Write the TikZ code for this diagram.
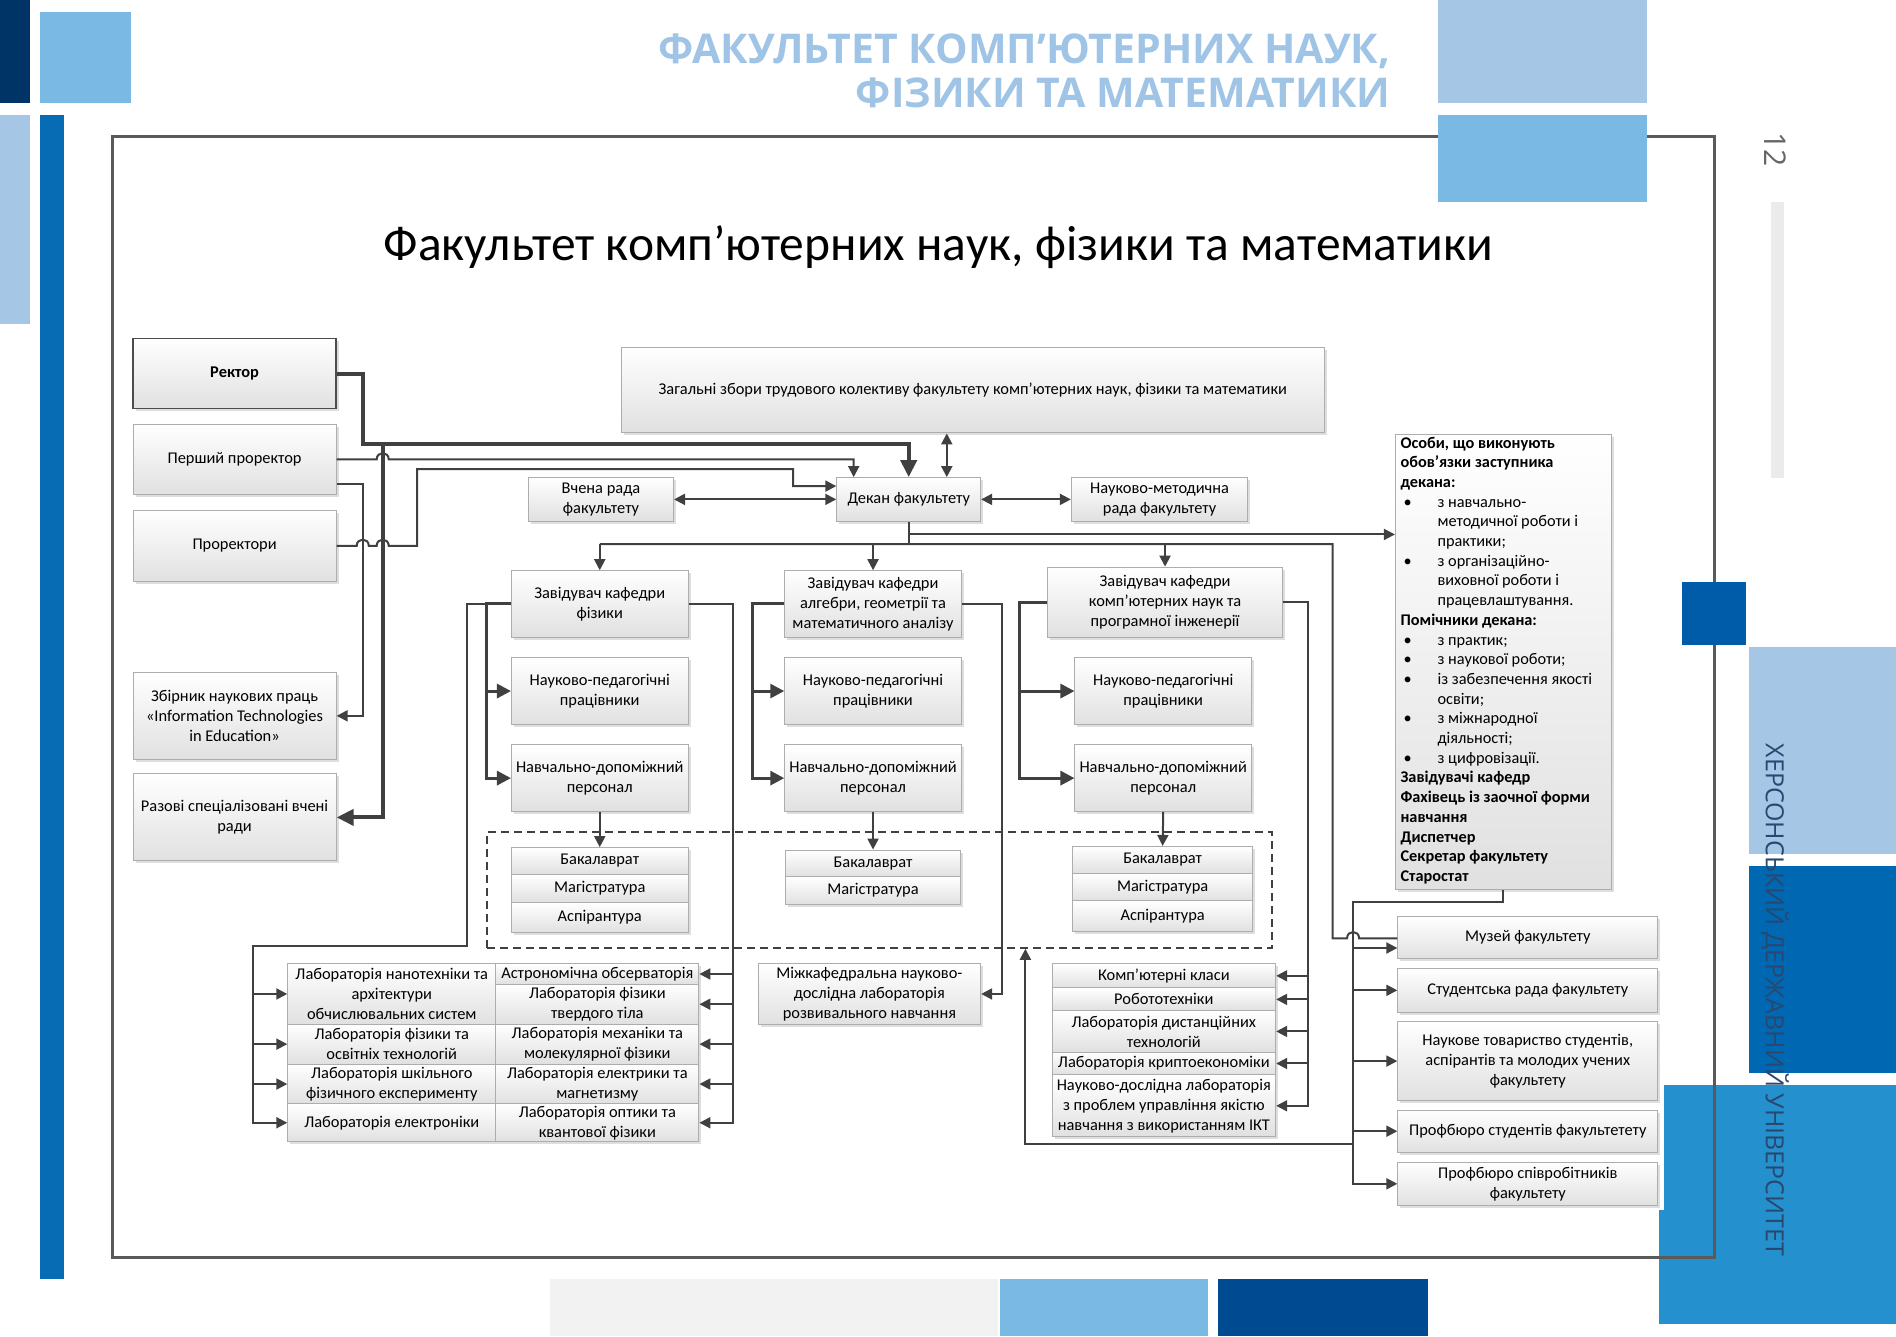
\documentclass[tikz,border=0pt]{standalone}
\usepackage{fontspec}
\setmainfont{Carlito}
\newfontfamily\hdrfont{Open Sans}
\usetikzlibrary{arrows.meta,shadows}
\definecolor{cNavy}{RGB}{0,51,102}
\definecolor{cPale}{RGB}{166,198,230}
\definecolor{cSky}{RGB}{122,185,227}
\definecolor{cBlue}{RGB}{8,108,180}
\definecolor{cDeep}{RGB}{0,92,169}
\definecolor{cMid}{RGB}{0,104,178}
\definecolor{cBright}{RGB}{36,144,205}
\definecolor{cDark}{RGB}{0,74,146}
\definecolor{cHdr}{RGB}{160,196,230}
\definecolor{cLine}{RGB}{64,64,64}
\definecolor{cVert}{RGB}{40,72,112}
\definecolor{cFrame}{RGB}{90,90,90}
\tikzset{
  x=1.2092pt, y=-1.2092pt,
  bx/.style={draw=black!32, line width=1pt, top color=white, bottom color=black!12,
    drop shadow={shadow xshift=2.5pt, shadow yshift=-2.5pt, fill=black!25},
    align=center, inner sep=0pt, font=\fontsize{16.4}{20}\selectfont},
  ln/.style={draw=cLine, line width=2pt},
  med/.style={draw=cLine, line width=3pt},
  thk/.style={draw=cLine, line width=4pt},
  >={Triangle[length=11pt,width=11pt]},
  mtip/.style={-{Triangle[length=14pt,width=14pt]}},
  ttip/.style={-{Triangle[length=17pt,width=16pt]}},
}
\newcommand\bx[7][]{%
  \pgfmathsetmacro\bxw{(#5-#3)*1.2092}%
  \pgfmathsetmacro\bxh{(#6-#4)*1.2092}%
  \node[bx,minimum width=\bxw pt,minimum height=\bxh pt,#1] (#2) at ({(#3+#5)/2},{(#4+#6)/2}) {#7};}
\newcommand\osb{\makebox[37pt][l]{\hspace{3pt}•}}
\newcommand\osi{\hspace*{37pt}}
\begin{document}
\begin{tikzpicture}
\useasboundingbox (0,0) rectangle (1568,1105);
\fill[white] (0,0) rectangle (1568,1105);
% decorative blocks
\fill[cNavy] (0,0) rectangle (25,85);
\fill[cSky] (33,10) rectangle (108,85);
\fill[cPale] (0,95) rectangle (25,268);
\fill[cBlue] (33,95) rectangle (53,1058);
\fill[cPale] (1189,0) rectangle (1362,85);
\fill[black!8] (1465,167) rectangle (1475,395);
\fill[cPale] (1446,535) rectangle (1568,706);
\fill[cMid] (1446,716) rectangle (1568,887);
\fill[cBright] (1372,897) rectangle (1568,1095);
\fill[black!5] (455,1058) rectangle (825,1105);
\fill[cSky] (827,1058) rectangle (999,1105);
\fill[cDark] (1007,1058) rectangle (1181,1105);
\fill[white] (1360,897) rectangle (1376,1001);
% frame
\draw[cFrame, line width=2.5pt] (93,113) rectangle (1418,1040);
\fill[cSky] (1189,95) rectangle (1362,167);
\fill[cDeep] (1391,481) rectangle (1444,533);
% header texts
\node[anchor=east, inner sep=0pt, text=cHdr, font=\hdrfont\bfseries\fontsize{41}{44}\selectfont] (h1) at (1150,42) {ФАКУЛЬТЕТ КОМП’ЮТЕРНИХ НАУК,};
\node[anchor=east, inner sep=0pt, text=cHdr, font=\hdrfont\bfseries\fontsize{41}{44}\selectfont] (h2) at (1150,77) {ФІЗИКИ ТА МАТЕМАТИКИ};
\node[rotate=-90, inner sep=0pt, text=black!60, font=\hdrfont\fontsize{30}{32}\selectfont] (pg) at (1468,124) {12};
\node[rotate=-90, inner sep=0pt, text=cVert, font=\hdrfont\fontsize{25}{27}\selectfont] (uni) at (1468,827) {ХЕРСОНСЬКИЙ ДЕРЖАВНИЙ УНІВЕРСИТЕТ};
% title
\node[inner sep=0pt, font=\fontsize{49.5}{54}\selectfont] (title) at (776,204) {Факультет комп’ютерних наук, фізики та математики};
% dashed group
\node[draw=cLine, line width=1.6pt, dash pattern=on 8pt off 5pt, minimum width=784.8pt, minimum height=116.1pt, inner sep=0pt] (dsh) at (727.5,736) {};
% boxes
\bx[font=\bfseries\fontsize{16.4}{20}\selectfont, draw=black!70, line width=1.5pt]{rector}{110}{280}{278}{338}{Ректор}
\bx{pp}{110}{351}{278}{409}{Перший проректор}
\bx{pr}{110}{422}{278}{481}{Проректори}
\bx{zb}{110}{556}{278}{628}{Збірник наукових праць\\«Information Technologies\\in Education»}
\bx{rz}{110}{640}{278}{712}{Разові спеціалізовані вчені\\ради}
\bx{zz}{514}{287}{1095}{358}{Загальні збори трудового колективу факультету комп’ютерних наук, фізики та математики}
\bx{vr}{437}{395}{557}{431}{Вчена рада\\факультету}
\bx{dek}{692}{395}{811}{431}{Декан факультету}
\bx{nmr}{886}{395}{1032}{431}{Науково-методична\\рада факультету}
\bx{os}{1154}{359}{1333}{736}{}
\node[anchor=north west, align=left, inner sep=0pt, font=\fontsize{16.3}{19.7}\selectfont] (ostext) at ([xshift=5.5pt,yshift=-3pt]os.north west) {%
\textbf{Особи, що виконують}\\
\textbf{обов'язки заступника}\\
\textbf{декана:}\\
\osb з навчально-\\
\osi методичної роботи і\\
\osi практики;\\
\osb з організаційно-\\
\osi виховної роботи і\\
\osi працевлаштування.\\
\textbf{Помічники декана:}\\
\osb з практик;\\
\osb з наукової роботи;\\
\osb із забезпечення якості\\
\osi освіти;\\
\osb з міжнародної\\
\osi діяльності;\\
\osb з цифровізації.\\
\textbf{Завідувачі кафедр}\\
\textbf{Фахівець із заочної форми}\\
\textbf{навчання}\\
\textbf{Диспетчер}\\
\textbf{Секретар факультету}\\
\textbf{Старостат}};
% departments
\bx{za}{423}{472}{569}{527}{Завідувач кафедри\\фізики}
\bx{zg}{649}{472}{795}{527}{Завідувач кафедри\\алгебри, геометрії та\\математичного аналізу}
\bx{zi}{866}{469}{1061}{527}{Завідувач кафедри\\комп’ютерних наук та\\програмної інженерії}
\bx{npa}{423}{544}{569}{599}{Науково-педагогічні\\працівники}
\bx{npg}{649}{544}{795}{599}{Науково-педагогічні\\працівники}
\bx{npi}{889}{544}{1035}{599}{Науково-педагогічні\\працівники}
\bx{nda}{423}{616}{569}{671}{Навчально-допоміжний\\персонал}
\bx{ndg}{649}{616}{795}{671}{Навчально-допоміжний\\персонал}
\bx{ndi}{889}{616}{1035}{671}{Навчально-допоміжний\\персонал}
\bx{ba}{423}{701}{569}{723}{Бакалаврат}
\bx{ma}{423}{723}{569}{746}{Магістратура}
\bx{aa}{423}{746}{569}{771}{Аспірантура}
\bx{bg}{650}{703}{794}{725}{Бакалаврат}
\bx{mg}{650}{725}{794}{748}{Магістратура}
\bx{bi}{887}{700}{1036}{722}{Бакалаврат}
\bx{mi}{887}{722}{1036}{745}{Магістратура}
\bx{ai}{887}{745}{1036}{770}{Аспірантура}
% physics labs
\bx{la}{238}{797}{410}{847}{Лабораторія нанотехніки та\\архітектури\\обчислювальних систем}
\bx{lb}{238}{847}{410}{880}{Лабораторія фізики та\\освітніх технологій}
\bx{lc}{238}{880}{410}{913}{Лабораторія шкільного\\фізичного експерименту}
\bx{ld}{238}{913}{410}{944}{Лабораторія електроніки}
\bx{ra}{410}{797}{578}{814}{Астрономічна обсерваторія}
\bx{rb}{410}{814}{578}{847}{Лабораторія фізики\\твердого тіла}
\bx{rc}{410}{847}{578}{880}{Лабораторія механіки та\\молекулярної фізики}
\bx{rd}{410}{880}{578}{913}{Лабораторія електрики та\\магнетизму}
\bx{re}{410}{913}{578}{944}{Лабораторія оптики та\\квантової фізики}
\bx{mk}{627}{797}{811}{847}{Міжкафедральна науково-\\дослідна лабораторія\\розвивального навчання}
% cs labs
\bx{ca}{870}{797}{1055}{817}{Комп’ютерні класи}
\bx{cb}{870}{817}{1055}{836}{Робототехніки}
\bx{cc}{870}{836}{1055}{870}{Лабораторія дистанційних\\технологій}
\bx{cd}{870}{870}{1055}{889}{Лабораторія криптоекономіки}
\bx{ce}{870}{889}{1055}{940}{Науково-дослідна лабораторія\\з проблем управління якістю\\навчання з використанням ІКТ}
% right boxes
\bx{mu}{1156}{758}{1371}{793}{Музей факультету}
\bx{sr}{1156}{801}{1371}{837}{Студентська рада факультету}
\bx{nt}{1156}{845}{1371}{910}{Наукове товариство студентів,\\аспірантів та молодих учених\\факультету}
\bx{ps}{1156}{918}{1371}{953}{Профбюро студентів факультетету}
\bx{pw}{1156}{961}{1371}{997}{Профбюро співробітників\\факультету}
% ---------- connectors ----------
\draw[thk,ttip] (rector.east) -- (300,309) -- (300,367) -- (dek.north |- 0,367) -- (dek.north);
\draw[thk,ttip] (316.5,367) -- (316.5,676) -- (rz.east);
\draw[ln,->] (pp.east) -- (311.5,380) .. controls (311.5,373) and (321.5,373) .. (321.5,380) -- (706,380) -- (dek.north -| 706,0);
\draw[ln,->] (pp.east |- 0,400) -- (300,400) -- (300,592) -- (zb.east);
\draw[ln,->] (pr.east) -- (295,451.5) .. controls (295,444.5) and (305,444.5) .. (305,451.5) -- (311.5,451.5) .. controls (311.5,444.5) and (321.5,444.5) .. (321.5,451.5) -- (345,451.5) -- (345,388) -- (656,388) -- (656,402) -- (dek.west |- 0,402);
\draw[ln,<->] (vr.east) -- (dek.west);
\draw[ln,<->] (dek.east) -- (nmr.west);
\draw[ln,<->] (zz.south -| 783,0) -- (dek.north -| 783,0);
\draw[ln,->] (dek.south) -- (dek.south |- 0,442) -- (os.west |- 0,442);
\draw[ln] (dek.south |- 0,442) -- (dek.south |- 0,450);
\draw[ln] (za.north |- 0,450) -- (1102,450) -- (1102,776) -- (1114,776) .. controls (1114,769) and (1124,769) .. (1124,776) -- (mu.west |- 0,776);
\draw[ln,->] (za.north |- 0,450) -- (za.north);
\draw[ln,->] (zg.north |- 0,450) -- (zg.north);
\draw[ln,->] (zi.north |- 0,450) -- (zi.north);
% physics department
\draw[med,mtip] (za.west) -- (za.west -| 402,0) -- (402,643.5) -- (nda.west);
\draw[med,mtip] (402,571.5) -- (npa.west);
\draw[ln,->] (za.west) -- (za.west -| 386,0) -- (386,782) -- (209,782) -- (209,928.5) -- (ld.west);
\draw[ln,->] (209,822) -- (la.west);
\draw[ln,->] (209,863.5) -- (lb.west);
\draw[ln,->] (209,896.5) -- (lc.west);
\draw[ln,->] (za.east) -- (za.east -| 606,0) -- (606,928.5) -- (re.east);
\draw[ln,->] (606,805.5) -- (ra.east);
\draw[ln,->] (606,830.5) -- (rb.east);
\draw[ln,->] (606,863.5) -- (rc.east);
\draw[ln,->] (606,896.5) -- (rd.east);
% algebra department
\draw[med,mtip] (zg.west) -- (zg.west -| 622,0) -- (622,643.5) -- (ndg.west);
\draw[med,mtip] (622,571.5) -- (npg.west);
\draw[ln,->] (zg.east) -- (zg.east -| 829,0) -- (829,822) -- (mk.east);
% cs department
\draw[med,mtip] (zi.west) -- (zi.west -| 843,0) -- (843,643.5) -- (ndi.west);
\draw[med,mtip] (843,571.5) -- (npi.west);
\draw[ln,->] (zi.east) -- (zi.east -| 1082,0) -- (1082,914.5) -- (ce.east);
\draw[ln,->] (1082,807) -- (ca.east);
\draw[ln,->] (1082,826.5) -- (cb.east);
\draw[ln,->] (1082,853) -- (cc.east);
\draw[ln,->] (1082,879.5) -- (cd.east);
% to levels
\draw[ln,->] (nda.south) -- (ba.north);
\draw[ln,->] (ndg.south) -- (bg.north);
\draw[ln,->] (ndi.south) -- (bi.north);
% deputies to right boxes
\draw[ln,->] (os.south -| 1243,0) -- (1243,746) -- (1119,746) -- (1119,979) -- (pw.west);
\draw[ln,->] (1119,784) -- (mu.west |- 0,784);
\draw[ln,->] (1119,819) -- (sr.west);
\draw[ln,->] (1119,877.5) -- (nt.west);
\draw[ln,->] (1119,935.5) -- (ps.west);
\draw[ln,->] (1119,946) -- (848,946) -- (dsh.south -| 848,0);
\end{tikzpicture}
\end{document}
